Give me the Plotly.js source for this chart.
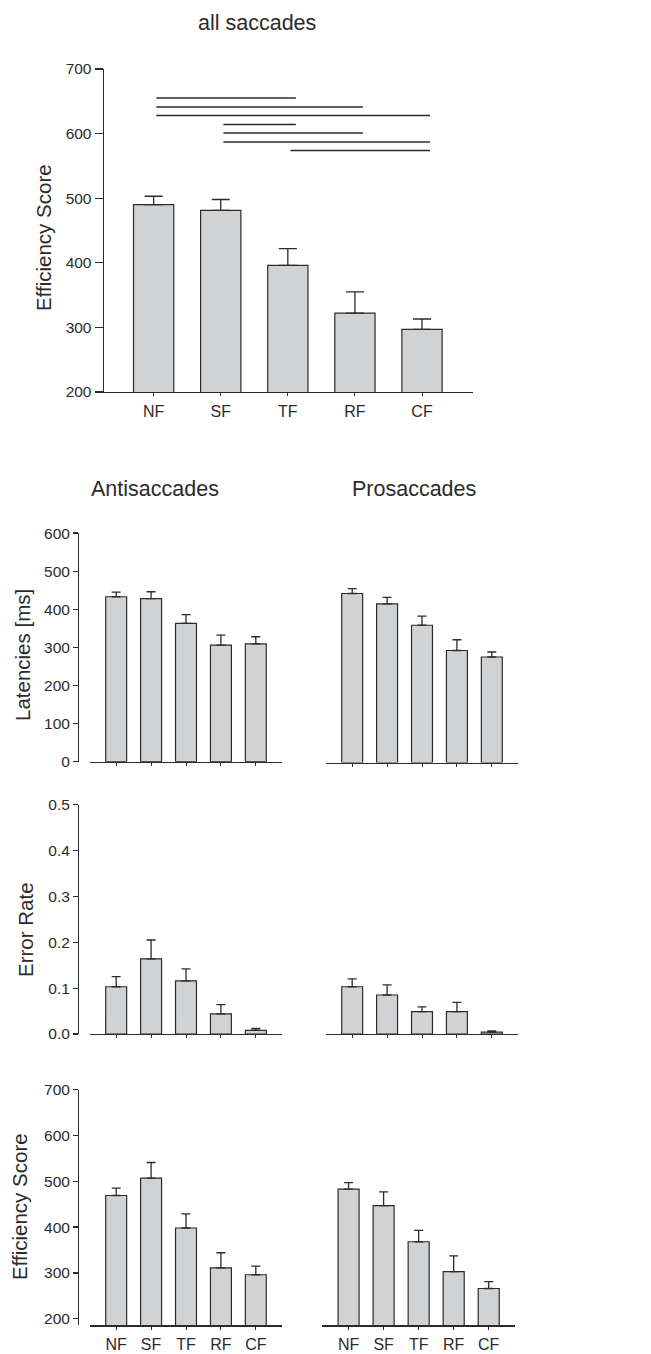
<!DOCTYPE html>
<html>
<head>
<meta charset="utf-8">
<script src="https://cdn.plot.ly/plotly-3.0.1.min.js"></script>
<style>html,body{margin:0;padding:0;background:#fff;}#chart{width:651px;height:1354px;}</style>
</head>
<body>
<div id="chart"></div>
<script>
// ---------- data ----------
var categories = ['NF', 'SF', 'TF', 'RF', 'CF'];

var allEff    = [490, 481, 396, 322, 297];
var allEffErr = [13, 17, 26, 33, 16];

var sigFrom  = ['NF', 'NF', 'NF', 'SF', 'SF', 'SF', 'TF'];
var sigTo    = ['TF', 'RF', 'CF', 'TF', 'RF', 'CF', 'CF'];
var sigLevel = [655, 641, 628, 614, 601, 587, 574];

var antiLat    = [433, 428, 363, 306, 309];
var antiLatErr = [12, 18, 23, 26, 19];
var proLat     = [442, 415, 359, 293, 276];
var proLatErr  = [13, 17, 24, 28, 13];

var antiErrRate    = [0.103, 0.164, 0.116, 0.044, 0.008];
var antiErrRateErr = [0.022, 0.041, 0.026, 0.020, 0.004];
var proErrRate     = [0.103, 0.085, 0.049, 0.049, 0.004];
var proErrRateErr  = [0.017, 0.022, 0.010, 0.020, 0.003];

var antiEff    = [469, 507, 398, 311, 296];
var antiEffErr = [16, 34, 31, 33, 19];
var proEff     = [483, 447, 368, 303, 266];
var proEffErr  = [14, 30, 25, 34, 15];

var mainTitle = 'all saccades';
var colTitles = ['Antisaccades', 'Prosaccades'];
var yTitles = ['Efficiency Score', 'Latencies [ms]', 'Error Rate', 'Efficiency Score'];

// ---------- styling / layout helpers ----------
var W = 651, H = 1354;
var FONT = '"Liberation Sans", Arial, Helvetica, sans-serif';
var INK = '#2b2b2b';
var FILL = '#d1d2d4';
function xd(a, b) { return [a / W, b / W]; }
function yd(top, bottom) { return [1 - bottom / H, 1 - top / H]; }
function zeros(n) { var a = []; for (var i = 0; i < n; i++) a.push(0); return a; }

function barTrace(vals, errs, xa, ya, capw) {
  return {
    type: 'bar', x: categories, y: vals, xaxis: xa, yaxis: ya,
    width: 0.6,
    marker: { color: FILL, line: { color: INK, width: 1.2 } },
    error_y: { type: 'data', symmetric: false, array: errs, arrayminus: zeros(errs.length),
               color: INK, thickness: 1.3, width: capw },
    showlegend: false, hoverinfo: 'x+y'
  };
}

var data = [
  barTrace(allEff, allEffErr, 'x', 'y', 9),
  barTrace(antiLat, antiLatErr, 'x2', 'y2', 4.5),
  barTrace(proLat, proLatErr, 'x3', 'y3', 4.5),
  barTrace(antiErrRate, antiErrRateErr, 'x4', 'y4', 4.5),
  barTrace(proErrRate, proErrRateErr, 'x5', 'y5', 4.5),
  barTrace(antiEff, antiEffErr, 'x6', 'y6', 4.5),
  barTrace(proEff, proEffErr, 'x7', 'y7', 4.5)
];

function xAxis(dom, anchor, labels, range) {
  return {
    domain: dom, anchor: anchor, type: 'category', range: range,
    showline: true, linecolor: INK, linewidth: 1.4, mirror: false,
    ticks: 'outside', ticklen: 3, tickcolor: INK, tickwidth: 1,
    showgrid: false, zeroline: false, fixedrange: true,
    showticklabels: labels, ticklabelstandoff: 1,
    tickfont: { family: FONT, size: 16, color: INK }
  };
}
function yAxis(dom, anchor, range, tickvals, fmt, visible, pos, ticklen) {
  var ax = {
    domain: dom, range: range, fixedrange: true,
    showgrid: false, zeroline: false,
    tickvals: tickvals, tickformat: fmt,
    tickfont: { family: FONT, size: 15.5, color: INK }
  };
  if (!visible) {
    ax.anchor = anchor; ax.visible = false;
  } else {
    ax.showline = true; ax.linecolor = INK; ax.linewidth = 1.4;
    ax.ticks = 'outside'; ax.ticklen = ticklen; ax.tickcolor = INK; ax.tickwidth = 1.2;
    if (pos !== null) { ax.anchor = 'free'; ax.position = pos; } else { ax.anchor = anchor; }
  }
  return ax;
}

var effTicks = [200, 300, 400, 500, 600, 700];
var latTicks = [0, 100, 200, 300, 400, 500, 600];
var errTicks = [0, 0.1, 0.2, 0.3, 0.4, 0.5];
var xr = [-0.75, 4.75];

var layout = {
  width: W, height: H,
  margin: { l: 0, r: 0, t: 0, b: 0 },
  paper_bgcolor: '#fff', plot_bgcolor: 'rgba(0,0,0,0)',
  showlegend: false,
  bargap: 0.4,
  xaxis:  xAxis(xd(104, 473), 'y', true, [-0.74, 4.76]),
  yaxis:  yAxis(yd(69, 392), 'x', [200, 700], effTicks, 'd', true, null, 8),
  xaxis2: xAxis(xd(90, 282), 'y2', false, xr),
  yaxis2: yAxis(yd(533.1, 761.7), 'x2', [0, 600], latTicks, 'd', true, 78 / W, 5),
  xaxis3: xAxis(xd(326, 518), 'y3', false, xr),
  yaxis3: yAxis(yd(533.1, 762.5), 'x3', [0, 600], latTicks, 'd', false, null, 5),
  xaxis4: xAxis(xd(90, 282), 'y4', false, xr),
  yaxis4: yAxis(yd(804.7, 1034), 'x4', [0, 0.5], errTicks, '.1f', true, 78 / W, 5),
  xaxis5: xAxis(xd(326, 518), 'y5', false, xr),
  yaxis5: yAxis(yd(804.7, 1034), 'x5', [0, 0.5], errTicks, '.1f', false, null, 5),
  xaxis6: xAxis(xd(90, 282), 'y6', true, xr),
  yaxis6: yAxis(yd(1089.7, 1325.3), 'x6', [185.6, 700], effTicks, 'd', true, 78 / W, 5),
  xaxis7: xAxis(xd(322.3, 515), 'y7', true, xr),
  yaxis7: yAxis(yd(1089.7, 1325.3), 'x7', [185.6, 700], effTicks, 'd', false, null, 5),
  shapes: [],
  annotations: []
};

// significance lines
for (var i = 0; i < sigFrom.length; i++) {
  layout.shapes.push({
    type: 'line', xref: 'x', yref: 'y',
    x0: categories.indexOf(sigFrom[i]) + 0.04,
    x1: categories.indexOf(sigTo[i]) + 0.12,
    y0: sigLevel[i], y1: sigLevel[i],
    line: { color: INK, width: 1.5 }
  });
}

function ann(text, px, py, size, angle) {
  layout.annotations.push({
    text: text, xref: 'paper', yref: 'paper',
    x: px / W, y: 1 - py / H, xanchor: 'center', yanchor: 'middle',
    showarrow: false, textangle: angle || 0,
    font: { family: FONT, size: size, color: INK }
  });
}
ann(mainTitle, 257, 23, 21.5);
ann(colTitles[0], 155, 489, 21.5);
ann(colTitles[1], 414, 489, 21.5);
ann(yTitles[0], 44, 238, 20.5, -90);
ann(yTitles[1], 22, 655, 20.5, -90);
ann(yTitles[2], 25, 930, 20.5, -90);
ann(yTitles[3], 19, 1207, 20.5, -90);

Plotly.newPlot('chart', data, layout, { displayModeBar: false, staticPlot: true });
</script>
</body>
</html>
